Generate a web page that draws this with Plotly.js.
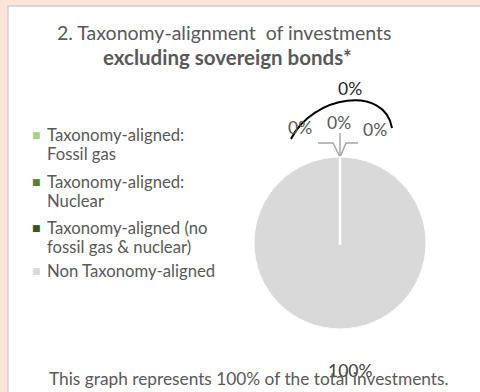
<!DOCTYPE html>
<html>
<head>
<meta charset="utf-8">
<script src="https://cdn.plot.ly/plotly-3.0.1.min.js"></script>
<style>
  html, body { margin: 0; padding: 0; background: #fde4d8; }
  #chart { width: 480px; height: 392px; }
</style>
</head>
<body>
<div id="chart"></div>
<script>
// ---- data ----
const categories = [
  "Taxonomy-aligned: Fossil gas",
  "Taxonomy-aligned: Nuclear",
  "Taxonomy-aligned (no fossil gas & nuclear)",
  "Non Taxonomy-aligned"
];
const legendLines = [
  ["Taxonomy-aligned:", "Fossil gas"],
  ["Taxonomy-aligned:", "Nuclear"],
  ["Taxonomy-aligned (no", "fossil gas & nuclear)"],
  ["Non Taxonomy-aligned"]
];
const values = [0, 0, 0, 100];
const colors = ["#a9d18e", "#548235", "#375623", "#d9d9d9"];
const titleLine1 = "2. Taxonomy-alignment  of investments";
const titleLine2 = "excluding sovereign bonds*";
const footnote = "This graph represents 100% of the total investments.";

// ---- geometry (pixels) ----
const W = 480, H = 392;
const px = x => x / W;
const py = y => 1 - y / H;
const cx = 340, cy = 243, r = 86;

const total = values.reduce((a, b) => a + b, 0);
const pct = v => Math.round(v / total * 100) + "%";
const alignedTotal = values.slice(0, 3).reduce((a, b) => a + b, 0);

const FONT = "Lato, 'Open Sans', sans-serif";
const GREY = "#595959";

const trace = {
  type: "pie",
  labels: categories,
  values: values,
  sort: false,
  direction: "clockwise",
  rotation: 0,
  marker: { colors: colors, line: { color: "#ffffff", width: 1 } },
  textinfo: "none",
  hoverinfo: "label+percent",
  showlegend: false,
  domain: { x: [px(cx - r), px(cx + r)], y: [py(cy + r), py(cy - r)] }
};

const annotations = [];
// title
annotations.push({ xref: "paper", yref: "paper", x: px(224), y: py(33), text: titleLine1,
  showarrow: false, xanchor: "center", yanchor: "middle",
  font: { family: FONT, size: 19.5, color: GREY } });
annotations.push({ xref: "paper", yref: "paper", x: px(227), y: py(57), text: "<b>" + titleLine2 + "</b>",
  showarrow: false, xanchor: "center", yanchor: "middle",
  font: { family: FONT, size: 20.5, color: GREY } });

// custom legend
const legendY = [135, 182, 228, 271];
const lineGap = 19;
legendLines.forEach((lines, i) => {
  annotations.push({ xref: "paper", yref: "paper", x: px(36), y: py(legendY[i]), text: "■",
    showarrow: false, xanchor: "center", yanchor: "middle",
    font: { family: "DejaVu Sans", size: 9, color: colors[i] } });
  lines.forEach((t, j) => {
    annotations.push({ xref: "paper", yref: "paper", x: px(46), y: py(legendY[i] + j * lineGap), text: t,
      showarrow: false, xanchor: "left", yanchor: "middle", align: "left", borderpad: 0,
      font: { family: FONT, size: 16.7, color: GREY } });
  });
});

// data labels
const lab = [
  { i: 0, x: 300, y: 128 },
  { i: 1, x: 339, y: 122 },
  { i: 2, x: 375, y: 129 }
];
lab.forEach(l => {
  annotations.push({ xref: "paper", yref: "paper", x: px(l.x), y: py(l.y), text: pct(values[l.i]),
    showarrow: false, xanchor: "center", yanchor: "middle",
    font: { family: FONT, size: 17.5, color: GREY } });
});
annotations.push({ xref: "paper", yref: "paper", x: px(350), y: py(88), text: pct(alignedTotal),
  showarrow: false, xanchor: "center", yanchor: "middle",
  font: { family: FONT, size: 17.5, color: "#262626" } });
annotations.push({ xref: "paper", yref: "paper", x: px(350), y: py(370), text: pct(values[3]),
  showarrow: false, xanchor: "center", yanchor: "middle",
  font: { family: FONT, size: 17.5, color: "#404040" } });

// footnote
annotations.push({ xref: "paper", yref: "paper", x: px(47), y: py(378), text: footnote,
  showarrow: false, xanchor: "left", yanchor: "middle",
  font: { family: FONT, size: 17.3, color: GREY } });

const P = (x, y) => px(x).toFixed(4) + "," + py(y).toFixed(4);
const shapes = [
  // white panel with grey top/left border
  { type: "rect", xref: "paper", yref: "paper", x0: px(8), x1: px(490), y0: py(400), y1: py(6),
    fillcolor: "#ffffff", line: { color: "#d0d0d0", width: 1.5 }, layer: "below" },
  // slice border at 12 o'clock
  { type: "line", xref: "paper", yref: "paper", x0: px(cx), x1: px(cx), y0: py(cy - r), y1: py(cy + 2),
    line: { color: "#ffffff", width: 2.5 } },
  // leader lines
  { type: "path", xref: "paper", yref: "paper", path: "M" + P(318, 143) + " L" + P(333, 143) + " L" + P(339.5, 156),
    line: { color: "#a6a6a6", width: 1.5 } },
  { type: "path", xref: "paper", yref: "paper", path: "M" + P(340, 133) + " L" + P(340, 156),
    line: { color: "#a6a6a6", width: 1.5 } },
  { type: "path", xref: "paper", yref: "paper", path: "M" + P(358, 143) + " L" + P(346, 143) + " L" + P(340.5, 156),
    line: { color: "#a6a6a6", width: 1.5 } },
  // hand-drawn arc
  { type: "path", xref: "paper", yref: "paper",
    path: "M" + P(291, 139) + " C" + P(313, 95) + " " + P(385, 85) + " " + P(392, 128),
    line: { color: "#000000", width: 2 } }
];

const layout = {
  width: W, height: H,
  margin: { l: 0, r: 0, t: 0, b: 0 },
  paper_bgcolor: "#fde4d8",
  showlegend: false,
  annotations: annotations,
  shapes: shapes
};

Plotly.newPlot("chart", [trace], layout, { displayModeBar: false, staticPlot: true });
</script>
</body>
</html>
